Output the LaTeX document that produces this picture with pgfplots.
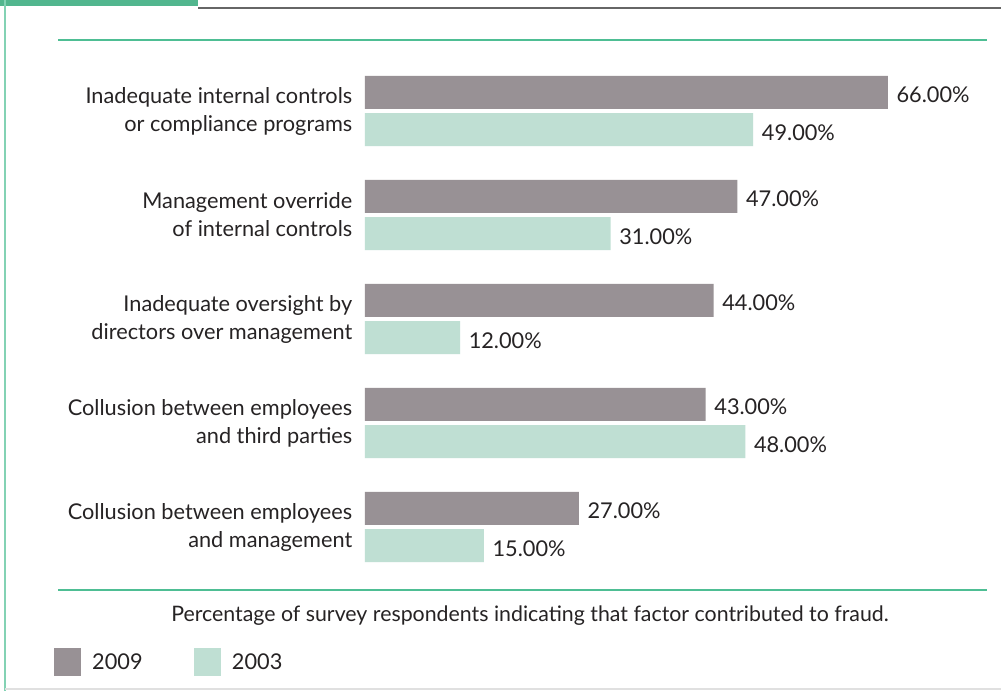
\documentclass[border=0pt]{standalone}
\usepackage{pgfplots}
\pgfplotsset{compat=1.18}
\usepackage{fontspec}
\setmainfont{Lato}
\definecolor{cA}{RGB}{152,145,149}
\definecolor{cB}{RGB}{191,223,211}
\definecolor{gline}{RGB}{78,190,148}
\definecolor{gblock}{RGB}{82,182,142}
\definecolor{txt}{RGB}{38,35,36}
\begin{document}
\begin{tikzpicture}
\begin{scope}[x=0.75pt,y=-0.75pt]
\useasboundingbox (0,0) rectangle (1001,691);
\fill[white] (0,0) rectangle (1001,691);
\fill[gblock] (0,0) rectangle (198,6);
\draw[gray!80!black, line width=1.2pt] (198,8) -- (1001,8);
\draw[gline!70!white, line width=1.5pt] (5,0) -- (5,691);
\draw[gline, line width=1.6pt] (58,40) -- (987,40);
\draw[gline, line width=1.6pt] (58,590) -- (987,590);
\draw[black!12, line width=1pt] (5,689) -- (1001,689);
\node[text=txt, font=\fontsize{16pt}{19pt}\selectfont] at (530,616) {Percentage of survey respondents indicating that factor contributed to fraud.};
\end{scope}
\begin{axis}[
  at={(273.75pt,-434.25pt)}, anchor=south west,
  scale only axis, width=475.4pt, height=390pt,
  xmin=0, xmax=80, ymin=-0.5, ymax=4.5,
  axis line style={draw=none},
  major tick length=0pt,
  xtick=\empty,
  xbar, bar width=24.75pt,
  clip=false,
  /pgf/number format/assume math mode=true,
  ytick={0,1,2,3,4},
  yticklabels={{Collusion between employees\\and management},
               {Collusion between employees\\and third parties},
               {Inadequate oversight by\\directors over management},
               {Management override\\of internal controls},
               {Inadequate internal controls\\or compliance programs}},
  yticklabel style={align=right, text=txt, font=\fontsize{16.3pt}{21pt}\selectfont, xshift=-6pt},
  nodes near coords={\pgfmathprintnumber[fixed,zerofill,precision=2]{\pgfplotspointmeta}\%},
  nodes near coords style={anchor=west, text=txt, font=\fontsize{16.3pt}{19pt}\selectfont, xshift=3pt, yshift=-2pt},
  point meta=explicit,
  legend style={at={(rel axis cs:-0.497,-0.16)}, anchor=west, draw=none, fill=none,
    legend columns=-1, font=\fontsize{16.3pt}{19pt}\selectfont, text=txt,
    /tikz/every even column/.append style={column sep=36.5pt}},
]
\addplot[fill=cA, draw=none, bar shift=14pt,
  legend image code/.code={\fill[cA] (-7pt,-10.5pt) rectangle (13pt,10.5pt);}]
  coordinates {(27,0) [27] (43,1) [43] (44,2) [44] (47,3) [47] (66,4) [66]};
\addplot[fill=cB, draw=none, bar shift=-14pt,
  legend image code/.code={\fill[cB] (-7pt,-10.5pt) rectangle (13pt,10.5pt);}]
  coordinates {(15,0) [15] (48,1) [48] (12,2) [12] (31,3) [31] (49,4) [49]};
\legend{\hspace{6.5pt}2009,\hspace{6.5pt}2003}
\end{axis}
\end{tikzpicture}
\end{document}
